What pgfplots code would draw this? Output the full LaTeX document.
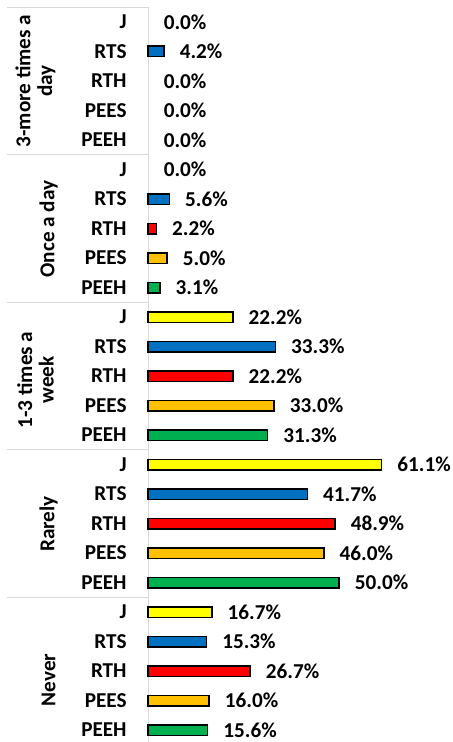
\documentclass[border=0pt]{standalone}
\usepackage{pgfplots}
\pgfplotsset{compat=1.18}
\usepackage{fontspec}
\setmainfont{Carlito}
\definecolor{cJ}{HTML}{FFFF00}
\definecolor{cRTS}{HTML}{0070C0}
\definecolor{cRTH}{HTML}{FF0000}
\definecolor{cPEES}{HTML}{FFC000}
\definecolor{cPEEH}{HTML}{00B050}
\definecolor{gridc}{HTML}{D9D9D9}
\newcommand{\lblfont}{\fontsize{10.6}{10.8}\selectfont\bfseries}
\begin{document}
\begin{tikzpicture}[font=\lblfont]
% category table lines
\draw[gridc, line width=0.5pt] (3.5pt,-3.625pt) -- (74pt,-3.625pt);
\draw[gridc, line width=0.5pt] (74pt,-3.625pt) -- (74pt,-371pt);
\foreach \yy in {77.375,151.125,224.875,298.625}{
  \draw[gridc, line width=0.5pt] (3.5pt,-\yy pt) -- (74pt,-\yy pt);
}
\begin{axis}[
  at={(74pt,-372.375pt)}, anchor=south west,
  scale only axis, width=152pt, height=368.75pt,
  xmin=0, xmax=79.48, ymin=-24.5, ymax=0.5,
  axis line style={draw=none},
  xtick=\empty,
  ytick={0,-1,...,-24},
  yticklabels={J,RTS,RTH,PEES,PEEH,J,RTS,RTH,PEES,PEEH,J,RTS,RTH,PEES,PEEH,J,RTS,RTH,PEES,PEEH,J,RTS,RTH,PEES,PEEH},
  major tick length=0pt,
  yticklabel style={anchor=east, inner sep=0pt, xshift=-10.5pt, font=\lblfont},
  clip=false,
  /pgf/number format/assume math mode=true,
  every axis plot/.append style={xbar, bar width=5.25pt, bar shift=0pt, line width=0.75pt},
]
\addplot[fill=cJ, draw=black] coordinates {(22.2,-10) (61.1,-15) (16.7,-20)};
\addplot[fill=cRTS, draw=black] coordinates {(4.2,-1) (5.6,-6) (33.3,-11) (41.7,-16) (15.3,-21)};
\addplot[fill=cRTH, draw=black] coordinates {(2.2,-7) (22.2,-12) (48.9,-17) (26.7,-22)};
\addplot[fill=cPEES, draw=black] coordinates {(5.0,-8) (33.0,-13) (46.0,-18) (16.0,-23)};
\addplot[fill=cPEEH, draw=black] coordinates {(3.1,-9) (31.3,-14) (50.0,-19) (15.6,-24)};
% data labels
\addplot[draw=none, fill=none, point meta=x,
  nodes near coords={\pgfmathprintnumber[fixed,fixed zerofill,precision=1]{\pgfplotspointmeta}\%},
  every node near coord/.style={anchor=west, inner sep=0pt, xshift=7.5pt, font=\lblfont, text=black}]
  coordinates {
  (0.0,0) (4.2,-1) (0.0,-2) (0.0,-3) (0.0,-4)
  (0.0,-5) (5.6,-6) (2.2,-7) (5.0,-8) (3.1,-9)
  (22.2,-10) (33.3,-11) (22.2,-12) (33.0,-13) (31.3,-14)
  (61.1,-15) (41.7,-16) (48.9,-17) (46.0,-18) (50.0,-19)
  (16.7,-20) (15.3,-21) (26.7,-22) (16.0,-23) (15.6,-24)};
\end{axis}
% group labels
\node[rotate=90, align=center, inner sep=0pt] at (17.75pt,-40.5pt) {3-more times a\\day};
\node[rotate=90, inner sep=0pt] at (24.25pt,-114.5pt) {Once a day};
\node[rotate=90, align=center, inner sep=0pt] at (17.75pt,-190pt) {1-3 times a\\week};
\node[rotate=90, inner sep=0pt] at (24.25pt,-262pt) {Rarely};
\node[rotate=90, inner sep=0pt] at (24.25pt,-340pt) {Never};
\pgfresetboundingbox
\path[use as bounding box] (0,0) rectangle (226pt,-371pt);
\end{tikzpicture}
\end{document}
